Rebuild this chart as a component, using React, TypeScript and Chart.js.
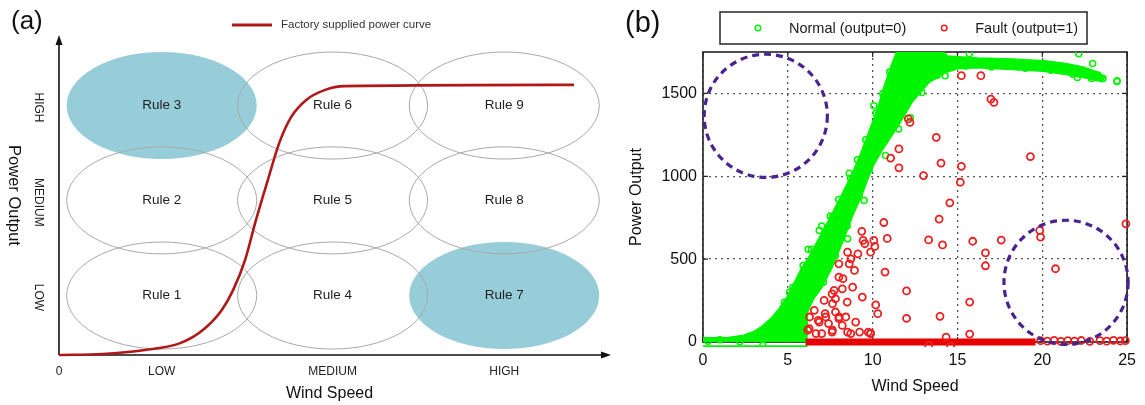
import React, { useEffect, useRef } from "react";
import { Chart, registerables } from "chart.js";

Chart.register(...registerables);

const FONT = "Arial, 'Liberation Sans', Helvetica, sans-serif";

// ---------------- Panel (a): fuzzy rule map ----------------
const panelALetter = "(a)";
const curveLabel = "Factory supplied power curve";
const windAxisTitle = "Wind Speed";
const powerAxisTitle = "Power Output";
const levelNames = ["LOW", "MEDIUM", "HIGH"];
const windTickLabels = ["0", "LOW", "MEDIUM", "HIGH"];
const windLevelValues = [18.98, 50.57, 82.3];
const powerLevelValues = [19.0, 49.4, 79.7];
const ruleNames = ["Rule 1", "Rule 2", "Rule 3", "Rule 4", "Rule 5", "Rule 6", "Rule 7", "Rule 8", "Rule 9"];
const ruleWindLevel = [0, 0, 0, 1, 1, 1, 2, 2, 2];
const rulePowerLevel = [0, 1, 2, 0, 1, 2, 0, 1, 2];
const highlightedRules = ["Rule 3", "Rule 7"];
const curveWind = [0, 8, 15.9, 22.4, 26.6, 30.1, 32.2, 34.4, 36.4, 38.6, 40.7, 42.9, 45.7, 49.2, 52.7, 95.2];
const curvePower = [0, 0.3, 1.6, 3.8, 8.0, 14.4, 20.8, 30.4, 43.1, 55.9, 67.7, 76.0, 81.5, 84.7, 85.9, 86.3];

// ---------------- Panel (b): SCADA scatter ----------------
const panelBLetter = "(b)";
const windTicks = [0, 5, 10, 15, 20, 25];
const powerTicks = [0, 500, 1000, 1500];
const normalLabel = "Normal (output=0)";
const faultLabel = "Fault (output=1)";
const legendOrder = [normalLabel, faultLabel];

// outline of the dense cloud of normal points (upper/left edge, then lower/right edge back)
const normalBandUpper: [number, number][] = [
  [0, 24], [1.5, 26], [2.4, 40], [3.0, 62], [3.5, 95], [4.0, 140], [4.5, 200], [5.0, 275],
  [5.4, 360], [5.8, 440], [6.3, 520], [6.8, 615], [7.3, 710], [7.8, 810], [8.3, 910],
  [8.8, 1015], [9.3, 1135], [9.8, 1270], [10.3, 1410], [10.7, 1545], [11.1, 1665],
  [11.5, 1770], [14.0, 1770], [14.4, 1725], [16.2, 1712], [18.2, 1706], [20.1, 1696],
  [21.3, 1680], [22.4, 1658], [23.2, 1630], [23.7, 1600],
];
const normalBandLower: [number, number][] = [
  [23.5, 1572], [22.5, 1596], [21.3, 1617], [20.1, 1636], [18.2, 1646], [16.2, 1656],
  [15.0, 1650], [14.3, 1627], [13.3, 1566], [12.3, 1446], [11.5, 1305], [10.5, 1150],
  [9.95, 1050], [9.4, 900], [8.8, 760], [8.2, 600], [7.6, 450], [7.0, 330], [6.5, 260],
  [6.15, 180], [6.1, -25], [0, -25],
];
const normalPoints: [number, number][] = [
  [15.7, 1740], [22.15, 1740], [22.97, 1681], [23.58, 1590], [24.4, 1572], [23.27, 1611],
  [8.62, 1018], [9.5, 854], [8.52, 623], [5.9, 462], [7.63, 753], [6.85, 673], [3.73, 90],
  [2.75, 30], [4.41, 151], [3.44, 40], [1.0, 14], [2.17, 2], [3.53, -20], [5.49, 30],
  [5.58, 111], [10.07, 1425], [11.73, 1425], [12.51, 1506], [10.76, 1125], [11.53, 1285],
  [12.22, 1355], [12.9, 1506], [14.27, 1607], [22.07, 1596], [24.41, 1576], [0.3, 5],
  [5.1, 300], [4.8, 240], [6.2, 560], [7.0, 700],
  [4.2, 120], [4.9, 230], [5.3, 330], [6.4, 560], [7.5, 760], [8.0, 860], [8.7, 990],
  [9.1, 1100], [9.6, 1220], [10.2, 1380], [10.6, 1500], [11.0, 1630], [13.0, 1590],
  [13.8, 1610], [15.5, 1665], [17.0, 1660], [19.0, 1652], [20.5, 1640], [21.8, 1615],
  [22.9, 1590], [10.3, 1160], [9.8, 1040], [9.2, 880], [8.5, 700], [7.8, 520], [7.1, 360],
];
const faultPoints: [number, number][] = [
  [15.23, 1607], [16.38, 1607], [16.97, 1466], [17.15, 1446], [12.1, 1346], [12.2, 1325],
  [13.75, 1235], [11.55, 1165], [11.06, 1110], [11.55, 1051], [14.03, 1080], [15.23, 1060],
  [13.0, 1004], [15.17, 964], [19.3, 1119], [14.55, 840], [13.92, 742], [10.66, 721],
  [10.86, 625], [13.3, 616], [14.12, 586], [15.9, 608], [17.58, 615], [16.65, 538],
  [16.65, 460], [19.85, 673], [19.9, 633], [20.78, 442], [24.93, 713], [10.73, 422],
  [12.0, 308], [12.0, 143], [13.97, 155], [15.72, 241], [15.72, 48], [14.33, 30],
  [10.18, 224], [10.3, 171], [9.88, 54],
  [9.36, 668], [9.44, 613], [10.07, 613], [10.13, 577], [9.88, 542], [9.54, 593], [9.13, 532],
  [8.52, 542], [8.72, 502], [8.01, 472], [8.62, 472], [8.93, 432], [8.01, 392], [8.25, 382],
  [8.82, 331], [8.21, 321], [7.61, 291], [7.73, 311], [7.81, 261], [9.39, 271], [7.14, 251],
  [8.5, 241], [7.63, 231], [7.81, 181], [7.2, 171], [6.56, 191], [6.28, 151], [7.24, 151],
  [8.02, 151], [8.42, 151], [6.79, 131], [6.85, 120], [9.0, 120], [7.4, 111], [8.21, 100],
  [8.01, 141], [6.18, 71], [6.26, 81], [6.66, 51], [7.0, 51], [7.63, 71], [7.61, 60],
  [8.52, 60], [8.71, 51], [9.23, 60], [9.74, 60], [9.88, 51],
  [19.9, 8], [20.3, 5], [20.7, 10], [21.1, 4], [21.5, 8], [21.9, 5], [22.3, 9], [22.8, 4],
  [23.4, 8], [23.8, 5], [24.2, 10], [24.6, 6], [24.9, 8], [13.3, -20], [14.6, -25],
];
const faultFloorWind = [6.05, 19.6];
const faultFloorPower = [0, 0];
const regionWind = [3.7, 21.4];
const regionPower = [1365, 360];
const regionRadiusWind = [3.63, 3.66];

const GREEN = "rgb(0,245,0)";
const RED = "rgb(236,30,30)";

function makeChartA(canvas: HTMLCanvasElement) {
  const plugin = {
    id: "panelA",
    beforeDatasetsDraw(chart: any) {
      const { ctx, chartArea: a, scales } = chart;
      const x = scales.x;
      const y = scales.y;
      const ell = ruleNames.map((name, i) => {
        const wv = windLevelValues[ruleWindLevel[i]];
        const pv = powerLevelValues[rulePowerLevel[i]];
        const cx = x.getPixelForValue(wv);
        const cy = y.getPixelForValue(pv);
        const rx = x.getPixelForValue(wv + 17.56) - cx;
        const ry = cy - y.getPixelForValue(pv + 17.1);
        return { name, cx, cy, rx, ry, hi: highlightedRules.includes(name) };
      });
      ctx.save();
      ell.filter((e) => e.hi).forEach((e) => {
        ctx.beginPath();
        ctx.ellipse(e.cx, e.cy, e.rx, e.ry, 0, 0, Math.PI * 2);
        ctx.fillStyle = "#97ccd9";
        ctx.fill();
      });
      ctx.strokeStyle = "#a9a9a9";
      ctx.lineWidth = 1;
      ell.filter((e) => !e.hi).forEach((e) => {
        ctx.beginPath();
        ctx.ellipse(e.cx, e.cy, e.rx, e.ry, 0, 0, Math.PI * 2);
        ctx.stroke();
      });
      ctx.fillStyle = "#222";
      ctx.font = `13.5px ${FONT}`;
      ctx.textAlign = "center";
      ctx.textBaseline = "middle";
      ell.forEach((e) => ctx.fillText(e.name, e.cx, e.cy));

      // axes with arrows
      ctx.strokeStyle = "#111";
      ctx.fillStyle = "#111";
      ctx.lineWidth = 1.6;
      ctx.beginPath();
      ctx.moveTo(a.left, a.bottom);
      ctx.lineTo(a.left, 44);
      ctx.moveTo(a.left, a.bottom);
      ctx.lineTo(603, a.bottom);
      ctx.stroke();
      ctx.beginPath();
      ctx.moveTo(a.left, 35);
      ctx.lineTo(a.left - 3.5, 45);
      ctx.lineTo(a.left + 3.5, 45);
      ctx.closePath();
      ctx.fill();
      ctx.beginPath();
      ctx.moveTo(611, a.bottom);
      ctx.lineTo(601, a.bottom - 3.5);
      ctx.lineTo(601, a.bottom + 3.5);
      ctx.closePath();
      ctx.fill();
      ctx.restore();
    },
    afterDraw(chart: any) {
      const { ctx, chartArea: a, scales } = chart;
      const y = scales.y;
      ctx.save();
      ctx.fillStyle = "#222";
      ctx.font = `12px ${FONT}`;
      ctx.textAlign = "center";
      ctx.textBaseline = "middle";
      levelNames.forEach((name, i) => {
        const py = y.getPixelForValue(powerLevelValues[i]);
        ctx.save();
        ctx.translate(38, py + 2);
        ctx.rotate(Math.PI / 2);
        ctx.fillText(name, 0, 0);
        ctx.restore();
      });
      ctx.fillStyle = "#111";
      ctx.font = `16.5px ${FONT}`;
      ctx.save();
      ctx.translate(14, (a.top + a.bottom) / 2 - 3);
      ctx.rotate(Math.PI / 2);
      ctx.fillText(powerAxisTitle, 0, 0);
      ctx.restore();
      // legend
      const ds = chart.data.datasets[0];
      ctx.strokeStyle = ds.borderColor;
      ctx.lineWidth = 3;
      ctx.beginPath();
      ctx.moveTo(232, 25);
      ctx.lineTo(272, 25);
      ctx.stroke();
      ctx.fillStyle = "#333";
      ctx.font = `11.5px ${FONT}`;
      ctx.textAlign = "left";
      ctx.fillText(ds.label, 281, 25);
      // panel letter
      ctx.fillStyle = "#111";
      ctx.font = `26px ${FONT}`;
      ctx.textBaseline = "alphabetic";
      ctx.fillText(panelALetter, 11, 29);
      ctx.restore();
    },
  };

  return new Chart(canvas, {
    type: "line",
    data: {
      datasets: [
        {
          label: curveLabel,
          data: curveWind.map((w, i) => ({ x: w, y: curvePower[i] })),
          borderColor: "#b01818",
          backgroundColor: "#b01818",
          borderWidth: 2.6,
          pointRadius: 0,
          cubicInterpolationMode: "monotone",
          clip: false as any,
        },
      ],
    },
    options: {
      responsive: false,
      animation: false,
      events: [],
      layout: { padding: { top: 42, right: 12, left: 0, bottom: 0 } },
      plugins: { legend: { display: false }, tooltip: { enabled: false } },
      scales: {
        x: {
          type: "linear",
          min: 0,
          max: 100,
          afterBuildTicks: (s: any) => {
            s.ticks = [0, ...windLevelValues].map((v) => ({ value: v }));
          },
          afterFit: (s: any) => {
            s.height = 50;
          },
          grid: { display: false, drawTicks: false },
          border: { display: false },
          ticks: {
            autoSkip: false,
            maxRotation: 0,
            padding: 9,
            color: "#222",
            font: { size: 12, family: FONT },
            callback: (_v: any, i: number) => windTickLabels[i],
          },
          title: {
            display: true,
            text: windAxisTitle,
            color: "#111",
            font: { size: 16, family: FONT },
            padding: { top: 0, bottom: 2 },
          },
        },
        y: {
          type: "linear",
          min: 0,
          max: 100,
          afterFit: (s: any) => {
            s.width = 59;
          },
          grid: { display: false, drawTicks: false },
          border: { display: false },
          ticks: { display: false },
        },
      },
    },
    plugins: [plugin],
  } as any);
}

function makeChartB(canvas: HTMLCanvasElement) {
  const plugin = {
    id: "panelB",
    beforeDatasetsDraw(chart: any) {
      const { ctx, chartArea: a, scales } = chart;
      ctx.save();
      ctx.strokeStyle = "#222";
      ctx.lineWidth = 1.6;
      ctx.strokeRect(a.left, a.top, a.right - a.left, a.bottom - a.top);
      ctx.lineWidth = 1.2;
      ctx.beginPath();
      windTicks.forEach((v) => {
        const px = scales.x.getPixelForValue(v);
        ctx.moveTo(px, a.bottom);
        ctx.lineTo(px, a.bottom - 5);
        ctx.moveTo(px, a.top);
        ctx.lineTo(px, a.top + 5);
      });
      powerTicks.forEach((v) => {
        const py = scales.y.getPixelForValue(v);
        ctx.moveTo(a.left, py);
        ctx.lineTo(a.left + 5, py);
        ctx.moveTo(a.right, py);
        ctx.lineTo(a.right - 5, py);
      });
      ctx.stroke();
      ctx.restore();
    },
    afterDatasetsDraw(chart: any) {
      const { ctx, scales } = chart;
      ctx.save();
      ctx.strokeStyle = "#4b2391";
      ctx.lineWidth = 3.2;
      ctx.setLineDash([7, 5]);
      regionWind.forEach((w, i) => {
        const cx = scales.x.getPixelForValue(w);
        const cy = scales.y.getPixelForValue(regionPower[i]);
        const r = scales.x.getPixelForValue(w + regionRadiusWind[i]) - cx;
        ctx.beginPath();
        ctx.arc(cx, cy, r, 0, Math.PI * 2);
        ctx.stroke();
      });
      ctx.restore();
    },
    afterDraw(chart: any) {
      const { ctx } = chart;
      ctx.save();
      ctx.font = `14.5px ${FONT}`;
      ctx.textBaseline = "middle";
      ctx.textAlign = "left";
      const items = legendOrder
        .map((lbl) => chart.data.datasets.find((d: any) => d.label === lbl))
        .filter(Boolean);
      const left = 108;
      const top = 12;
      const bottom = 44;
      const midY = (top + bottom) / 2;
      let cursor = left;
      const placed: any[] = [];
      items.forEach((d: any) => {
        const mx = cursor + 38;
        const tx = mx + 31;
        const tw = ctx.measureText(d.label).width;
        placed.push({ d, mx, tx });
        cursor = tx + tw;
      });
      const right = cursor + 9;
      ctx.fillStyle = "#fff";
      ctx.fillRect(left, top, right - left, bottom - top);
      ctx.strokeStyle = "#333";
      ctx.lineWidth = 1.6;
      ctx.strokeRect(left, top, right - left, bottom - top);
      placed.forEach(({ d, mx, tx }) => {
        ctx.strokeStyle = d.borderColor;
        ctx.lineWidth = 1.5;
        ctx.beginPath();
        ctx.arc(mx, midY, 2.8, 0, Math.PI * 2);
        ctx.stroke();
        ctx.fillStyle = "#1a1a1a";
        ctx.fillText(d.label, tx, midY + 1);
      });
      ctx.fillStyle = "#111";
      ctx.font = `29px ${FONT}`;
      ctx.textBaseline = "alphabetic";
      ctx.fillText(panelBLetter, 13, 32);
      ctx.restore();
    },
  };

  const clipBox = { left: 5, top: 0, right: 5, bottom: 5 };
  return new Chart(canvas, {
    type: "scatter",
    data: {
      datasets: [
        {
          label: faultLabel,
          order: 0,
          data: faultPoints.map(([w, p]) => ({ x: w, y: p })),
          borderColor: RED,
          backgroundColor: "rgba(0,0,0,0)",
          pointStyle: "circle",
          pointRadius: 3.5,
          pointBorderWidth: 1.8,
          clip: clipBox,
        },
        {
          type: "line",
          label: "fault floor",
          order: 1,
          data: faultFloorWind.map((w, i) => ({ x: w, y: faultFloorPower[i] })),
          borderColor: "rgb(230,0,0)",
          borderWidth: 7,
          pointRadius: 0,
          fill: false,
          clip: clipBox,
        },
        {
          label: normalLabel,
          order: 2,
          data: normalPoints.map(([w, p]) => ({ x: w, y: p })),
          borderColor: GREEN,
          backgroundColor: "rgba(0,0,0,0)",
          pointStyle: "circle",
          pointRadius: 3,
          pointBorderWidth: 1.5,
          clip: clipBox,
        },
        {
          type: "line",
          label: "normal cloud",
          order: 3,
          data: [...normalBandUpper, ...normalBandLower].map(([w, p]) => ({ x: w, y: p })),
          borderColor: GREEN,
          backgroundColor: GREEN,
          borderWidth: 2,
          pointRadius: 0,
          tension: 0,
          fill: "shape",
          clip: clipBox,
        },
      ],
    },
    options: {
      responsive: false,
      animation: false,
      events: [],
      layout: { padding: { top: 52, right: 14, left: 0, bottom: 0 } },
      plugins: { legend: { display: false }, tooltip: { enabled: false } },
      scales: {
        x: {
          type: "linear",
          min: 0,
          max: 25,
          afterBuildTicks: (s: any) => {
            s.ticks = windTicks.map((v) => ({ value: v }));
          },
          afterFit: (s: any) => {
            s.height = 63;
          },
          grid: { color: "#555", lineWidth: 1.3, drawTicks: false },
          border: { display: false, dash: [2, 4] },
          ticks: {
            autoSkip: false,
            maxRotation: 0,
            padding: 9,
            color: "#111",
            font: { size: 16, family: FONT },
            callback: (v: any) => String(v),
          },
          title: {
            display: true,
            text: windAxisTitle,
            color: "#111",
            font: { size: 16, family: FONT },
            padding: { top: 0, bottom: 9 },
          },
        },
        y: {
          type: "linear",
          min: 0,
          max: 1750,
          afterBuildTicks: (s: any) => {
            s.ticks = powerTicks.map((v) => ({ value: v }));
          },
          afterFit: (s: any) => {
            s.width = 91;
          },
          grid: { color: "#555", lineWidth: 1.3, drawTicks: false },
          border: { display: false, dash: [2, 4] },
          ticks: {
            padding: 6,
            color: "#111",
            font: { size: 16, family: FONT },
            callback: (v: any) => String(v),
          },
          title: {
            display: true,
            text: powerAxisTitle,
            color: "#111",
            font: { size: 16, family: FONT },
            padding: { top: 15, bottom: 0 },
          },
        },
      },
    },
    plugins: [plugin],
  } as any);
}

export default function App() {
  const refA = useRef<HTMLCanvasElement>(null);
  const refB = useRef<HTMLCanvasElement>(null);

  useEffect(() => {
    Chart.defaults.font.family = FONT;
    const chartA = makeChartA(refA.current!);
    const chartB = makeChartB(refB.current!);
    return () => {
      chartA.destroy();
      chartB.destroy();
    };
  }, []);

  return (
    <div
      style={{
        position: "absolute",
        left: 0,
        top: 0,
        width: 1145,
        height: 405,
        background: "#fff",
        overflow: "hidden",
      }}
    >
      <canvas
        ref={refA}
        width={612}
        height={405}
        style={{ position: "absolute", left: 0, top: 0, width: 612, height: 405 }}
      />
      <canvas
        ref={refB}
        width={533}
        height={405}
        style={{ position: "absolute", left: 612, top: 0, width: 533, height: 405 }}
      />
    </div>
  );
}
